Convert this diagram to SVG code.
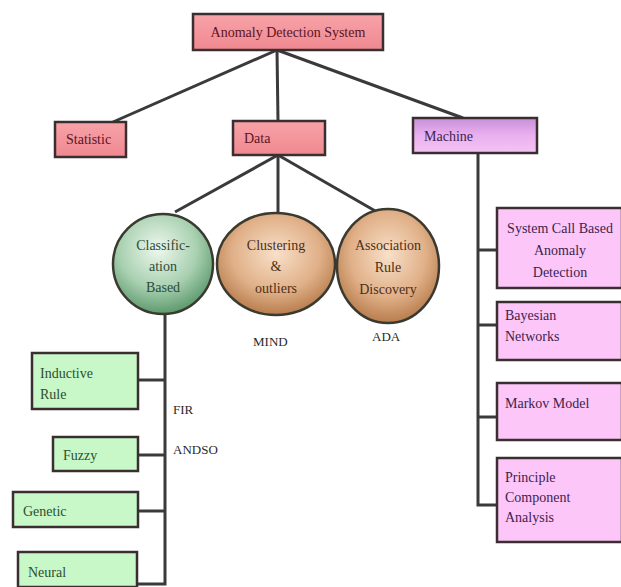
<svg xmlns="http://www.w3.org/2000/svg" width="621" height="587" viewBox="0 0 621 587">
<defs>
<linearGradient id="red" x1="0" y1="0" x2="0" y2="1"><stop offset="0" stop-color="#f7a3a8"/><stop offset="1" stop-color="#f08890"/></linearGradient>
<linearGradient id="mach" x1="0" y1="0" x2="0" y2="1"><stop offset="0" stop-color="#c890d8"/><stop offset="0.5" stop-color="#eab0f0"/><stop offset="1" stop-color="#f4c4f4"/></linearGradient>
<radialGradient id="green" cx="0.45" cy="0.35" r="0.65"><stop offset="0" stop-color="#eef8ee"/><stop offset="0.6" stop-color="#a8d0b0"/><stop offset="1" stop-color="#5e9a6e"/></radialGradient>
<radialGradient id="orange" cx="0.5" cy="0.4" r="0.62"><stop offset="0" stop-color="#f8e0c8"/><stop offset="0.6" stop-color="#e0b088"/><stop offset="1" stop-color="#b47848"/></radialGradient>
</defs>
<style>
.box{stroke:#3a2e30;stroke-width:2.5}
.rb{fill:url(#red)}
.pb{fill:#fcc6f8}
.gb{fill:#c8f8c8}
.circ{stroke:#3a3a30;stroke-width:2.5}
.edge{stroke:#3a3a3a;stroke-width:3;fill:none}
text{font-family:"Liberation Serif","Times New Roman",serif;font-size:14px}
.rt{fill:#5a1424}
.pt{fill:#3e1e4e}
.gt{fill:#2e4e2e}
.ct{fill:#4e2e18;text-anchor:middle}
.cg{fill:#2e4a34;text-anchor:middle}
.lt{fill:#2a2a2a;font-size:13px}
</style>
<rect width="621" height="587" fill="#ffffff"/>
<g id="connectors">
<line class="edge" x1="277" y1="50" x2="113" y2="122"/>
<line class="edge" x1="277" y1="50" x2="278" y2="121"/>
<line class="edge" x1="277" y1="50" x2="463" y2="118"/>
<line class="edge" x1="278" y1="155" x2="175" y2="212"/>
<line class="edge" x1="278" y1="155" x2="278" y2="213"/>
<line class="edge" x1="278" y1="155" x2="377" y2="212"/>
<polyline class="edge" points="165,315 165,584 137,584"/>
<line class="edge" x1="138" y1="380" x2="165" y2="380"/>
<line class="edge" x1="138" y1="455" x2="165" y2="455"/>
<line class="edge" x1="138" y1="511" x2="165" y2="511"/>
<polyline class="edge" points="478,153 478,505 497,505"/>
<line class="edge" x1="478" y1="250" x2="497" y2="250"/>
<line class="edge" x1="478" y1="325" x2="497" y2="325"/>
<line class="edge" x1="478" y1="417" x2="497" y2="417"/>
</g>
<g id="root"><rect class="box rb" x="193" y="14" width="190" height="36"/><text class="rt" x="288" y="37" text-anchor="middle">Anomaly Detection System</text></g>
<g id="statistic"><rect class="box rb" x="55" y="122" width="71" height="35"/><text class="rt" x="66" y="144" font-size="13">Statistic</text></g>
<g id="data"><rect class="box rb" x="233" y="121" width="92" height="34"/><text class="rt" x="244" y="143" font-size="13">Data</text></g>
<g id="machine"><rect class="box" fill="url(#mach)" x="413" y="118" width="124" height="35"/><text class="pt" x="424" y="141">Machine</text></g>
<g id="classification"><circle class="circ" fill="url(#green)" cx="163" cy="264" r="50"/><text class="cg" x="163" y="250">Classific-</text><text class="cg" x="163" y="271">ation</text><text class="cg" x="163" y="292">Based</text></g>
<g id="clustering"><ellipse class="circ" fill="url(#orange)" cx="276" cy="264" rx="59" ry="51"/><text class="ct" x="276" y="250">Clustering</text><text class="ct" x="276" y="271">&amp;</text><text class="ct" x="276" y="293">outliers</text></g>
<g id="association"><ellipse class="circ" fill="url(#orange)" cx="388" cy="266" rx="51" ry="57"/><text class="ct" x="388" y="250">Association</text><text class="ct" x="388" y="272">Rule</text><text class="ct" x="388" y="294">Discovery</text></g>
<g id="mind"><text class="lt" x="253" y="346">MIND</text></g>
<g id="ada"><text class="lt" x="372" y="341">ADA</text></g>
<g id="fir"><text class="lt" x="173" y="414">FIR</text></g>
<g id="andso"><text class="lt" x="173" y="454">ANDSO</text></g>
<g id="inductive"><rect class="box gb" x="32" y="353" width="106" height="56"/><text class="gt" x="40" y="378">Inductive</text><text class="gt" x="40" y="399">Rule</text></g>
<g id="fuzzy"><rect class="box gb" x="53" y="437" width="85" height="34"/><text class="gt" x="63" y="460">Fuzzy</text></g>
<g id="genetic"><rect class="box gb" x="13" y="492" width="125" height="35"/><text class="gt" x="23" y="516">Genetic</text></g>
<g id="neural"><rect class="box gb" x="18" y="552" width="119" height="35"/><text class="gt" x="28" y="577">Neural</text></g>
<g id="syscall"><rect class="box pb" x="497" y="208" width="125" height="80"/><text class="pt" x="560" y="233" text-anchor="middle">System Call Based</text><text class="pt" x="560" y="255" text-anchor="middle">Anomaly</text><text class="pt" x="560" y="277" text-anchor="middle">Detection</text></g>
<g id="bayesian"><rect class="box pb" x="497" y="302" width="125" height="58"/><text class="pt" x="505" y="320">Bayesian</text><text class="pt" x="505" y="341">Networks</text></g>
<g id="markov"><rect class="box pb" x="497" y="383" width="125" height="57"/><text class="pt" x="505" y="408">Markov Model</text></g>
<g id="pca"><rect class="box pb" x="497" y="458" width="125" height="84"/><text class="pt" x="505" y="482">Principle</text><text class="pt" x="505" y="502">Component</text><text class="pt" x="505" y="522">Analysis</text></g>
</svg>
